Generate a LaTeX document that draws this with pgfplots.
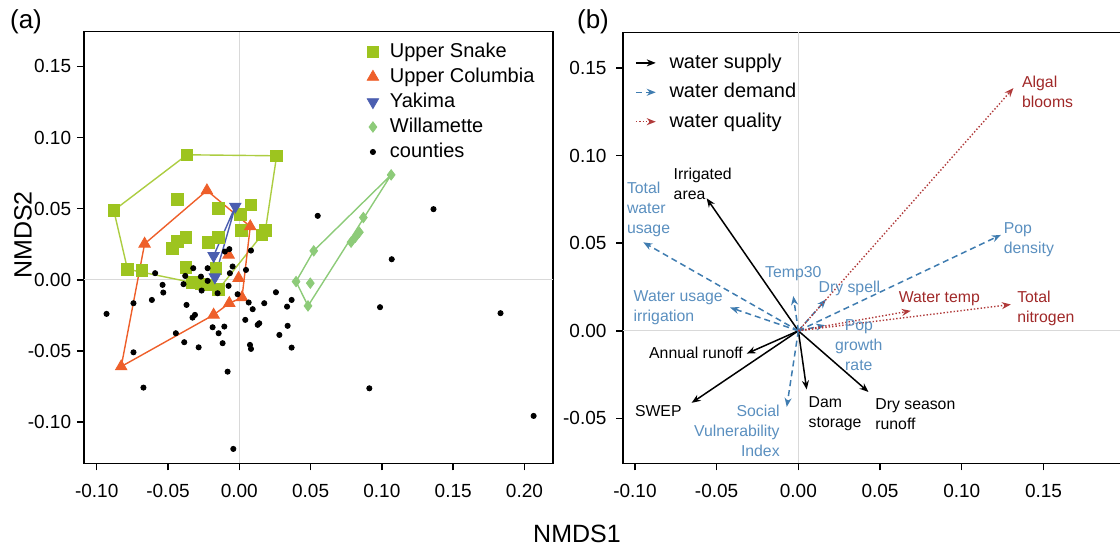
\documentclass[border=0pt]{standalone}
\usepackage{fontspec}
\setmainfont{Liberation Sans}
\usepackage{pgfplots}
\pgfplotsset{compat=1.18}
\usetikzlibrary{arrows.meta}

\definecolor{usnake}{HTML}{9DC41F}
\definecolor{ucol}{HTML}{EE5F2A}
\definecolor{yak}{HTML}{4B5EB0}
\definecolor{will}{HTML}{8DCB79}
\definecolor{demand}{HTML}{3F7CB0}
\definecolor{demandtxt}{HTML}{5A8FBF}
\definecolor{quality}{HTML}{B03A3A}
\definecolor{qualitytxt}{HTML}{A02828}

\pgfplotsset{
  rstyle/.style={
    scale only axis, clip=false,
    axis line style={line width=0.7pt},
    tick align=outside, major tick length=3.5pt,
    every tick/.style={black, line width=0.7pt},
    xtick pos=bottom, ytick pos=left,
    ticklabel style={font=\fontsize{9.5}{11}\selectfont},
    xticklabel style={yshift=-3.5pt},
    yticklabel style={xshift=0.6pt},
  },
  mklegend/.style={legend image code/.code={\path[draw=none,fill=none] (-4pt,-3pt) rectangle (4pt,3pt);\draw[##1] plot coordinates {(0pt,0pt)};}},
  supply/.style={black, line width=0.75pt, -{Stealth[length=4.5pt,width=3.5pt]}},
  demandst/.style={demand, line width=0.75pt, dashed, dash pattern=on 3pt off 2pt, -{Stealth[length=4.5pt,width=3.5pt]}},
  qualityst/.style={quality, line width=0.7pt, densely dotted, -{Stealth[length=4.5pt,width=3.5pt]}},
}

\begin{document}
\begin{tikzpicture}[x=1pt,y=1pt,
  lab/.style={font=\fontsize{7.9}{10}\selectfont, inner sep=0pt}]
% panel (a)
\begin{axis}[rstyle,
  at={(42pt,42.35pt)}, anchor=south west,
  width=234.5pt, height=215.8pt,
  xmin=-0.1089, xmax=0.22, ymin=-0.1289, ymax=0.1744,
  xtick={-0.1,-0.05,0,0.05,0.1,0.15,0.2},
  xticklabels={-0.10,-0.05,0.00,0.05,0.10,0.15,0.20},
  ytick={-0.1,-0.05,0,0.05,0.1,0.15},
  yticklabels={-0.10,-0.05,0.00,0.05,0.10,0.15},
  legend style={draw=none, fill=none, inner sep=0pt, outer sep=0pt,
    at={(0.599,0.982)}, anchor=north west,
    font=\fontsize{10}{12}\selectfont,
    nodes={inner xsep=0pt, inner ysep=1.5pt, text height=7.5pt, text depth=2pt},
    /tikz/column sep=4.5pt, /tikz/row sep=0pt},
  legend cell align=left,
]
\addplot[gray!30, line width=0.4pt, forget plot] coordinates {(0,-0.1289) (0,0.1744)};
\addplot[gray!30, line width=0.4pt, forget plot] coordinates {(-0.1089,0) (0.22,0)};
% hulls
\addplot[usnake!85, line width=0.7pt, forget plot] coordinates {(-0.0880,0.0488) (-0.0367,0.0879) (0.0262,0.0872) (0.0183,0.0347) (-0.0145,-0.0066) (-0.0328,-0.0019) (-0.0784,0.0075) (-0.0880,0.0488)};
\addplot[ucol, line width=0.7pt, forget plot] coordinates {(-0.0227,0.0628) (0.0077,0.0375) (0.0019,-0.0124) (-0.0070,-0.0164) (-0.0180,-0.0246) (-0.0828,-0.0609) (-0.0664,0.0253) (-0.0227,0.0628)};
\addplot[yak, line width=0.7pt, forget plot] coordinates {(-0.0028,0.0516) (-0.0180,0.0169) (-0.0171,0.0019) (-0.0028,0.0516)};
\addplot[will, line width=0.7pt, forget plot] coordinates {(0.1065,0.0738) (0.0482,-0.0183) (0.0398,-0.0012) (0.0522,0.0204) (0.1065,0.0738)};
% groups
\addplot[only marks, mark=square*, mark size=2.9pt, color=usnake, mklegend] coordinates {
(-0.0367,0.0879) (0.0262,0.0872) (-0.0880,0.0488) (-0.0433,0.0567) (-0.0145,0.0504) (0.0082,0.0527) (0.0007,0.0462) (0.0016,0.0347) (0.0183,0.0347) (0.0159,0.0316) (-0.0374,0.0298) (-0.0433,0.0270) (-0.0468,0.0223) (-0.0215,0.0263) (-0.0145,0.0298) (-0.0784,0.0075) (-0.0683,0.0066) (-0.0374,0.0089) (-0.0164,0.0082) (-0.0328,-0.0019) (-0.0269,-0.0028) (-0.0222,-0.0035) (-0.0145,-0.0066)};
\addlegendentry{Upper Snake}
\addplot[only marks, mark=triangle*, mark size=3.3pt, color=ucol, mklegend] coordinates {
(-0.0227,0.0628) (-0.0664,0.0253) (0.0077,0.0375) (-0.0075,0.0176) (-0.0005,0.0012) (0.0019,-0.0124) (-0.0070,-0.0164) (-0.0180,-0.0246) (-0.0828,-0.0609)};
\addlegendentry{Upper Columbia}
\addplot[only marks, mark=triangle*, mark size=3.3pt, mark options={rotate=180}, color=yak, mklegend] coordinates {
(-0.0028,0.0516) (-0.0180,0.0169) (-0.0171,0.0019)};
\addlegendentry{Yakima}
\addplot[only marks, mark=diamond*, mark size=2.6pt, color=will, mklegend] coordinates {
(0.1065,0.0738) (0.0870,0.0438) (0.0842,0.0335) (0.0814,0.0300) (0.0784,0.0265) (0.0522,0.0204) (0.0398,-0.0012) (0.0498,-0.0023) (0.0482,-0.0183)};
\addlegendentry{Willamette}
\addplot[only marks, mark=*, mark size=1.3pt, color=black, mklegend] coordinates {
(-0.0931,-0.0239) (-0.0590,0.0047) (-0.0538,-0.0035) (-0.0533,-0.0089) (-0.0613,-0.0141) (-0.0742,-0.0164) (-0.0742,-0.0509) (-0.0672,-0.0757) (-0.0445,-0.0375) (-0.0386,-0.0438) (-0.0370,-0.0176) (-0.0328,-0.0265) (-0.0311,-0.0246) (-0.0285,-0.0474) (-0.0323,0.0082) (-0.0379,0.0028) (-0.0391,-0.0030) (-0.0269,0.0023) (-0.0222,0.0082) (-0.0222,-0.0007) (-0.0264,-0.0075) (-0.0187,-0.0333) (-0.0145,-0.0375) (-0.0105,-0.0328) (-0.0117,-0.0445) (-0.0082,-0.0645) (-0.0042,-0.1188) (-0.0101,0.0199) (-0.0070,0.0216) (-0.0047,0.0094) (-0.0066,0.0047) (-0.0075,-0.0042) (-0.0152,-0.0094) (-0.0012,-0.0101) (0.0047,0.0070) (0.0082,0.0206) (0.0066,-0.0159) (0.0094,-0.0206) (0.0042,-0.0281) (0.0075,-0.0457) (0.0082,-0.0485) (0.0129,-0.0316) (0.0140,-0.0305) (0.0175,-0.0164) (0.0257,-0.0087) (0.0281,-0.0387) (0.0339,-0.0323) (0.0335,-0.0188) (0.0367,-0.0141) (0.0367,-0.0476) (0.0550,0.0450) (0.1069,0.0145) (0.0987,-0.0192) (0.0912,-0.0762) (0.1362,0.0497) (0.1832,-0.0234) (0.2064,-0.0956)};
\addlegendentry{counties}
\end{axis}

% panel (b)
\begin{axis}[rstyle,
  at={(311.5pt,42.35pt)}, anchor=south west,
  width=251.1pt, height=215.4pt,
  xmin=-0.1073, xmax=0.2, ymin=-0.0756, ymax=0.1702,
  xtick={-0.1,-0.05,0,0.05,0.1,0.15},
  xticklabels={-0.10,-0.05,0.00,0.05,0.10,0.15},
  ytick={-0.05,0,0.05,0.1,0.15},
  yticklabels={-0.05,0.00,0.05,0.10,0.15},
  yticklabel style={xshift=-1.85pt},
  legend style={draw=none, fill=none, inner sep=0pt, outer sep=0pt,
    at={(0.0239,0.9636)}, anchor=north west,
    font=\fontsize{10}{12}\selectfont,
    nodes={inner xsep=0pt, inner ysep=2.1pt, text height=8pt, text depth=2.5pt},
    /tikz/column sep=6.5pt, /tikz/row sep=0pt},
  legend cell align=left,
  legend image code/.code={\path[draw=none,fill=none] (0pt,-3pt) rectangle (10pt,3pt);\draw[#1] (0pt,0pt) -- (10pt,0pt);},
]
\addlegendimage{supply}
\addlegendentry{water supply}
\addlegendimage{demandst}
\addlegendentry{water demand}
\addlegendimage{qualityst}
\addlegendentry{water quality}
\addplot[gray!30, line width=0.4pt, forget plot] coordinates {(0,-0.0756) (0,0.1702)};
\addplot[gray!30, line width=0.4pt, forget plot] coordinates {(-0.1073,0) (0.2,0)};
% water supply
\addplot[supply, forget plot] coordinates {(0,0) (-0.0561,0.0756)};
\addplot[supply, forget plot] coordinates {(0,0) (-0.0316,-0.0130)};
\addplot[supply, forget plot] coordinates {(0,0) (-0.0653,-0.0411)};
\addplot[supply, forget plot] coordinates {(0,0) (0.0051,-0.0335)};
\addplot[supply, forget plot] coordinates {(0,0) (0.0429,-0.0349)};
% water demand
\addplot[demandst, forget plot] coordinates {(0,0) (-0.0949,0.0505)};
\addplot[demandst, forget plot] coordinates {(0,0) (-0.0418,0.0133)};
\addplot[demandst, forget plot] coordinates {(0,0) (-0.0031,0.0198)};
\addplot[demandst, forget plot] coordinates {(0,0) (0.0169,0.0179)};
\addplot[demandst, forget plot] coordinates {(0,0) (0.1239,0.0547)};
\addplot[demandst, forget plot] coordinates {(0,0) (0.0163,0.0032)};
\addplot[demandst, forget plot] coordinates {(0,0) (-0.0071,-0.0434)};
% water quality
\addplot[qualityst, forget plot] coordinates {(0,0) (0.1316,0.1385)};
\addplot[qualityst, forget plot] coordinates {(0,0) (0.0688,0.0114)};
\addplot[qualityst, forget plot] coordinates {(0,0) (0.1300,0.0150)};
% labels
\node[lab, anchor=west, align=left] at (axis cs:-0.0765,0.0838) {Irrigated\\area};
\node[lab, anchor=west, align=left, demandtxt] at (axis cs:-0.1051,0.0695) {Total\\water\\usage};
\node[lab, demandtxt] at (axis cs:-0.0031,0.0324) {Temp30};
\node[lab, demandtxt] at (axis cs:0.0312,0.0242) {Dry spell};
\node[lab, anchor=west, align=left, demandtxt] at (axis cs:-0.1010,0.0133) {Water usage\\irrigation};
\node[lab, anchor=west, qualitytxt] at (axis cs:0.0612,0.0185) {Water temp};
\node[lab, anchor=west, align=left, qualitytxt] at (axis cs:0.1337,0.0126) {Total\\nitrogen};
\node[lab, anchor=west, align=left, qualitytxt] at (axis cs:0.1367,0.1362) {Algal\\blooms};
\node[lab, anchor=west, align=left, demandtxt] at (axis cs:0.1255,0.0518) {Pop\\density};
\node[lab, align=center, demandtxt] at (axis cs:0.0370,-0.0082) {Pop\\growth\\rate};
\node[lab, anchor=east] at (axis cs:-0.0337,-0.0124) {Annual runoff};
\node[lab] at (axis cs:-0.0857,-0.0457) {SWEP};
\node[lab, anchor=east, align=right, demandtxt] at (axis cs:-0.0112,-0.0568) {Social\\Vulnerability\\Index};
\node[lab, anchor=west, align=left] at (axis cs:0.0061,-0.0474) {Dam\\storage};
\node[lab, anchor=west, align=left] at (axis cs:0.0469,-0.0474) {Dry season\\runoff};
\end{axis}

\node[font=\fontsize{13}{15}\selectfont] at (13,263) {(a)};
\node[font=\fontsize{13}{15}\selectfont] at (296.5,263) {(b)};
\node[font=\fontsize{12.5}{15}\selectfont, rotate=90] at (11.5,156.5) {NMDS2};
\node[font=\fontsize{12.5}{15}\selectfont] at (288.5,7) {NMDS1};
\pgfresetboundingbox
\useasboundingbox (0,0) rectangle (560,274);
\end{tikzpicture}
\end{document}
